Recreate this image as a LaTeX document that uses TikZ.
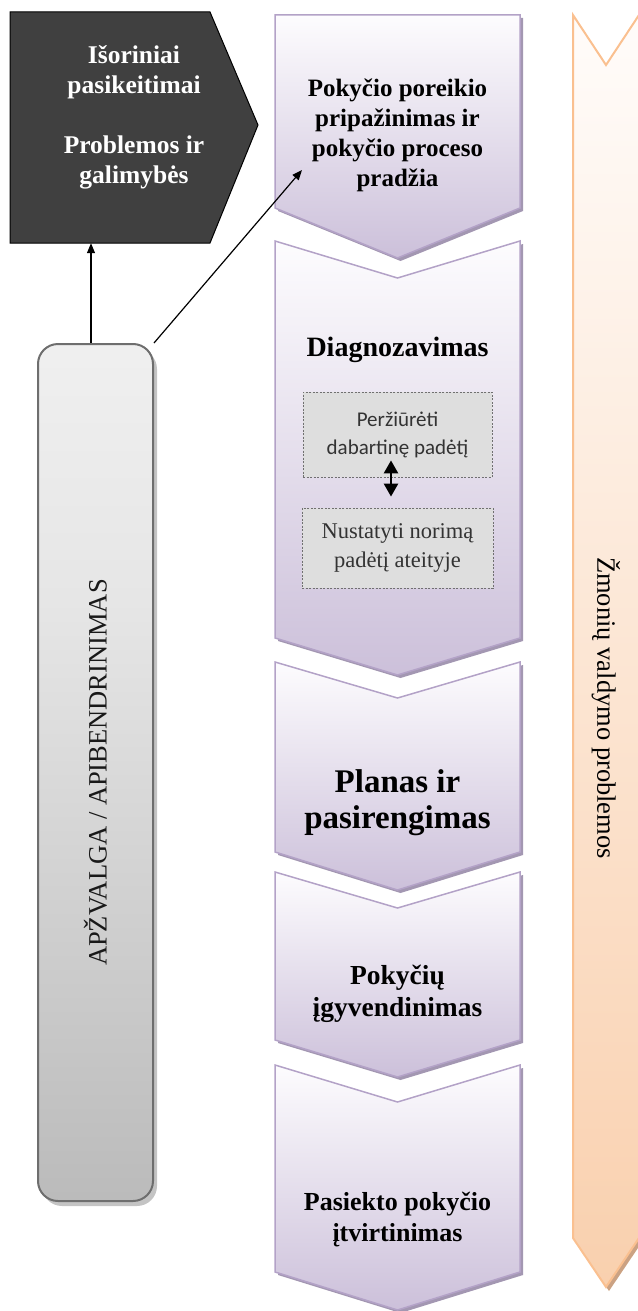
\documentclass[tikz,border=0pt]{standalone}
\usepackage{fontspec}
\setmainfont{Liberation Serif}
\newfontfamily\calibrifont{Carlito}
\usetikzlibrary{arrows.meta,calc}

\definecolor{darkbox}{HTML}{404040}
\definecolor{lavline}{HTML}{B3A2C7}
\definecolor{lavbot}{HTML}{CCC0DA}
\definecolor{lavtop}{HTML}{FDFCFE}
\definecolor{lavshadow}{HTML}{A397B2}
\definecolor{peachline}{HTML}{FAC090}
\definecolor{peachtop}{HTML}{FFFCFA}
\definecolor{peachbot}{HTML}{F9D0AE}
\definecolor{peachshadow}{HTML}{CBA283}
\definecolor{greyline}{HTML}{6E6E6E}
\definecolor{greybot}{HTML}{9C9C9C}
\definecolor{greymid}{HTML}{E6E6E6}
\definecolor{greyshadow}{HTML}{C4C4C4}
\definecolor{boxfill}{HTML}{DEDEDE}
\definecolor{boxline}{HTML}{707070}
\definecolor{innertext}{HTML}{333333}

\pgfdeclareverticalshading{greyshade}{100bp}{color(0bp)=(greybot); color(60bp)=(greymid); color(100bp)=(white)}

% one step of the process column: top edge, notch, lower corners, tip
\newcommand\chevron[4]{%
  \fill[lavshadow, shift={(3,3)}] (275,#1) -- (397.5,#2) -- (520,#1) -- (520,#3) -- (397.5,#4) -- (275,#3) -- cycle;
  \shade[top color=lavtop, bottom color=lavbot] (275,#1) -- (397.5,#2) -- (520,#1) -- (520,#3) -- (397.5,#4) -- (275,#3) -- cycle;
  \draw[lavline, line width=1.5pt, line join=miter] (275,#1) -- (397.5,#2) -- (520,#1) -- (520,#3) -- (397.5,#4) -- (275,#3) -- cycle;}

\tikzset{
  steptext/.style={align=center, font=\bfseries\fontsize{25}{30}\selectfont, inner sep=0pt},
  innerbox/.style={draw=boxline, fill=boxfill, line width=0.8pt, dash pattern=on 2pt off 1.5pt,
    inner sep=0pt, align=center, text=innertext},
  link/.style={line width=1.2pt, -{Triangle[length=10pt,width=8pt]}},
}

\begin{document}
\begin{tikzpicture}[x=1pt,y=-1pt]
\useasboundingbox (0,0) rectangle (637,1311);

% external factors pentagon
\fill[darkbox, draw=black, line width=1pt] (10,12) -- (210,12) -- (258,125) -- (210,243) -- (10,243) -- cycle;
\node[minimum width=248pt, minimum height=231pt, inner sep=0pt] (ext) at (134,127.5) {};
\node[steptext, text=white, font=\bfseries\fontsize{25.5}{30}\selectfont] (extlabel) at (134,117)
  {Išoriniai\\pasikeitimai\\[30pt]Problemos ir\\galimybės};

% review bar
\fill[greyshadow, rounded corners=20pt] (42,349) rectangle (157,1206);
\node[draw=greyline, line width=2pt, rounded corners=20pt, minimum width=115pt, minimum height=857pt,
  inner sep=0pt, shading=greyshade] (review) at (95.5,772.5) {};
\node[rotate=90, font=\fontsize{26.5}{30}\selectfont, text=black!90] (reviewlabel) at (review.center)
  {APŽVALGA / APIBENDRINIMAS};

% people management band
\fill[peachshadow, shift={(3,4)}] (573,15) -- (606,65) -- (639,15) -- (639,1238) -- (606,1287) -- (573,1238) -- cycle;
\shade[top color=peachtop, bottom color=peachbot] (573,15) -- (606,65) -- (639,15) -- (639,1238) -- (606,1287) -- (573,1238) -- cycle;
\draw[peachline, line width=2pt] (573,15) -- (606,65) -- (639,15) -- (639,1238) -- (606,1287) -- (573,1238) -- cycle;
\node[rotate=-90, font=\fontsize{26.5}{30}\selectfont] (hr) at (606,708) {Žmonių valdymo problemos};

% process steps
\chevron{15}{15}{208}{258}
\chevron{241}{278}{638}{675}
\chevron{662}{698}{852}{890}
\chevron{872}{908}{1040}{1077}
\chevron{1065}{1102}{1272}{1310}

\node[steptext] (s1) at (397.5,135) {Pokyčio poreikio\\pripažinimas ir\\pokyčio proceso\\pradžia};
\node[steptext, font=\bfseries\fontsize{28}{30}\selectfont] (s2) at (397.5,350) {Diagnozavimas};
\node[steptext, font=\bfseries\fontsize{33}{36}\selectfont] (s3) at (397.5,803) {Planas ir\\pasirengimas};
\node[steptext, font=\bfseries\fontsize{27.5}{32}\selectfont] (s4) at (397.5,994) {Pokyčių\\įgyvendinimas};
\node[steptext, font=\bfseries\fontsize{26}{31}\selectfont] (s5) at (397.5,1220) {Pasiekto pokyčio\\įtvirtinimas};

% diagnosis sub-steps
\node[innerbox, minimum width=189pt, minimum height=85pt, font=\calibrifont\fontsize{21}{28}\selectfont]
  (look) at (397.5,434.5) {Peržiūrėti\\dabartinę padėtį};
\node[innerbox, minimum width=191pt, minimum height=80pt, font=\fontsize{22.5}{29}\selectfont]
  (goal) at (397.5,548) {Nustatyti norimą\\padėtį ateityje};
\draw[line width=2.5pt, {Triangle[length=13pt,width=14pt]}-{Triangle[length=13pt,width=14pt]}]
  ($(look.south)+(-6.5,-17)$) -- ($(goal.north)+(-6.5,-11)$);

% connectors from the review bar
\coordinate (up) at ($(review.north)+(-4.5,0)$);
\coordinate (s1in) at (302,170);
\draw[link] (up) -- (up |- ext.south);
\draw[link] (review.north east) -- (s1in);
\end{tikzpicture}
\end{document}
